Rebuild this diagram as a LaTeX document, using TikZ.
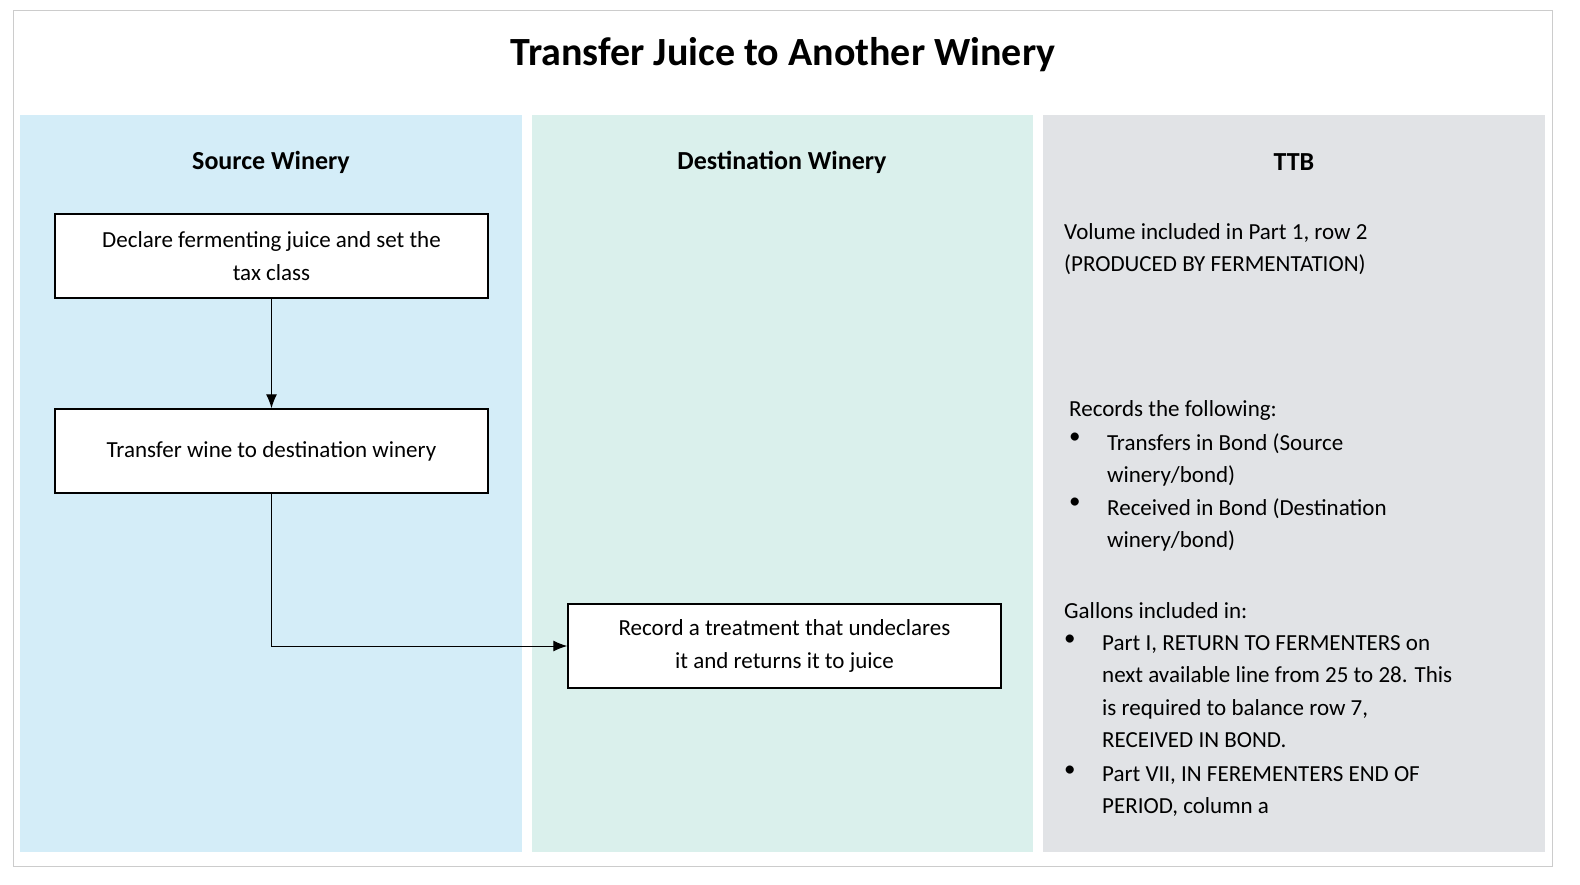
\documentclass[tikz,border=0pt]{standalone}
\usepackage{fontspec}
\setmainfont{Carlito}
\usetikzlibrary{arrows.meta}
\definecolor{srcc}{HTML}{D4EDF8}
\definecolor{dstc}{HTML}{DAF0EC}
\definecolor{ttbc}{HTML}{E1E3E6}
\begin{document}
\begin{tikzpicture}[x=1pt,y=-1pt,
 stepbox/.style={draw=black,line width=1.5pt,fill=white,minimum width=433pt,minimum height=84pt,align=center,font=\fontsize{23}{33}\selectfont,inner sep=0pt},
 hdr/.style={font=\fontsize{26}{30}\selectfont\bfseries},
 body/.style={font=\fontsize{23}{32.5}\selectfont,align=left,anchor=north west,inner sep=0pt},
 conn/.style={line width=1pt,-{Latex[length=14pt,width=11pt]}}]
\useasboundingbox (0,0) rectangle (1580,884);
\fill[white] (0,0) rectangle (1580,884);
\draw[gray!40,line width=1pt] (13,10) rectangle (1552,866);
\fill[srcc] (20,115) rectangle (522,852);
\fill[dstc] (532,115) rectangle (1033,852);
\fill[ttbc] (1043,115) rectangle (1545,852);
\node[font=\fontsize{40}{44}\selectfont\bfseries] (title) at (783,55) {Transfer Juice to Another Winery};
\node[hdr] (h1) at (271,162) {Source Winery};
\node[hdr] (h2) at (782,162) {Destination Winery};
\node[hdr] (h3) at (1294,162) {TTB};
\node[stepbox] (b1) at (271.5,256) {Declare fermenting juice and set the\\tax class};
\node[stepbox] (b2) at (271.5,451) {Transfer wine to destination winery};
\node[stepbox] (b3) at (784.5,646) {Record a treatment that undeclares\\it and returns it to juice};
\draw[conn] (b1.south) -- (b2.north);
\draw[conn] (b2.south) |- (b3.west);
\node[body] (t1) at (1064,223) {Volume included in Part 1, row 2\\(PRODUCED BY FERMENTATION)};
\node[body] (t2) at (1069,400) {Records the following:};
\node[body] (t2a) at (1069,433) {•};
\node[body] (t2b) at (1107,433) {Transfers in Bond (Source\\winery/bond)};
\node[body] (t2c) at (1069,498) {•};
\node[body] (t2d) at (1107,498) {Received in Bond (Destination\\winery/bond)};
\node[body] (t3) at (1064,602) {Gallons included in:};
\node[body] (t3a) at (1064,635) {•};
\node[body] (t3b) at (1102,635) {Part I, RETURN TO FERMENTERS on\\next available line from 25 to 28. This\\is required to balance row 7,\\RECEIVED IN BOND.};
\node[body] (t3c) at (1064,766) {•};
\node[body] (t3d) at (1102,766) {Part VII, IN FEREMENTERS END OF\\PERIOD, column a};
\end{tikzpicture}
\end{document}
